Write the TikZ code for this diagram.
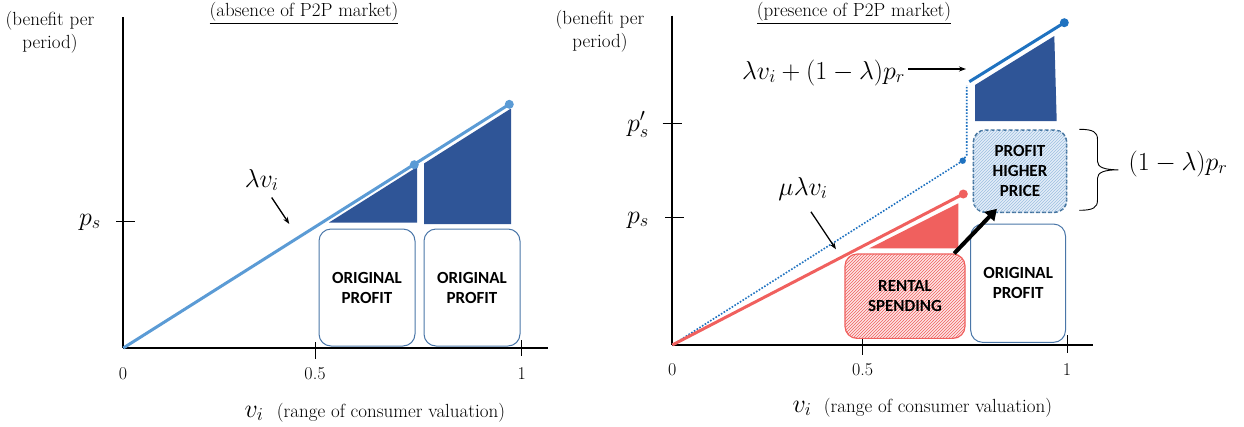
\documentclass[tikz,border=0pt]{standalone}
\usepackage{fix-cm}
\usepackage{fontspec}
\newfontfamily\boxfont{Carlito}
\usepackage{amsmath}
\definecolor{ppblue}{HTML}{5B9BD5}
\definecolor{ppdark}{HTML}{2F5597}
\definecolor{ppmid}{HTML}{1F72C0}
\definecolor{ppedge}{HTML}{4A76A8}
\definecolor{ppdash}{HTML}{41719C}
\definecolor{ppred}{HTML}{F0605E}
\definecolor{pplight}{HTML}{E2ECF7}
\definecolor{pphatch}{HTML}{9DBFE0}
\definecolor{pppink}{HTML}{FCE6E6}
\usetikzlibrary{arrows.meta,positioning,patterns}

\begin{document}
\begin{tikzpicture}[x=1pt,y=-1pt,
 lbl/.style={font=\fontsize{19}{23}\selectfont,align=center,inner sep=0pt,anchor=base},
 num/.style={font=\fontsize{18}{21}\selectfont,inner sep=0pt,anchor=base},
 mth/.style={font=\fontsize{26}{31}\selectfont,inner sep=0pt,anchor=base},
 pbox/.style={draw=ppedge,line width=1pt,rounded corners=12pt,align=center,%
   font=\boxfont\bfseries\fontsize{17}{20}\selectfont},
 axis/.style={line width=2.6pt},
 yax/.style={line width=2pt},
 tck/.style={line width=1pt},
 arr/.style={-{Stealth[length=7pt,width=5pt]},line width=1.3pt,shorten <=3pt},
 bigarr/.style={-{Triangle[length=11pt,width=13pt]},line width=4pt},
 lline/.style={draw=ppblue,line width=3pt},
 rline/.style={draw=ppred,line width=3pt},
 mline/.style={draw=ppmid,line width=3pt},
 dline/.style={draw=ppmid,line width=1.6pt,dash pattern=on 1.6pt off 1.6pt},
 brc/.style={line width=0.9pt}]
\useasboundingbox (0,0) rectangle (1244,426);
% left: absence of P2P market
\node[lbl] (tl) at (304,16) {\underline{(absence of P2P market)}};
\node[lbl] (bl) at (50,48) {(benefit per\\period)};
\coordinate (ol) at (123.3,348);
\draw[yax] (123.3,17) -- (ol);
\draw[axis] (ol) -- (548,348);
\draw[tck] (116,221) -- (135,221);
\draw[tck] (315,342) -- (315,359);
\draw[tck] (521.7,340) -- (521.7,356);
\node[mth] (psl) at (90,225) {$p_s$};
\node[num] (zl) at (123,379) {0};
\node[num] (hl) at (315,379) {0.5};
\node[num] (il) at (521.7,379) {1};
\node[mth] (vl) at (254,417) {$v_i$};
\node[lbl] (rl) at (391,417) {(range of consumer valuation)};
\fill[ppdark] (329,222.5) -- (417,167) -- (417,222.5) -- cycle;
\fill[ppdark] (424,224) -- (424,163.5) -- (511,108.5) -- (511,224) -- cycle;
\coordinate (ml) at (414.3,164.7);
\coordinate (el) at (509.3,104.3);
\draw[lline] (ol) -- (el);
\fill[ppblue] (ml) circle[radius=4.5pt] (el) circle[radius=4.5pt];
\node[pbox,minimum width=96pt,minimum height=117pt] (opa) at (367,287.5) {ORIGINAL\\PROFIT};
\node[pbox,minimum width=96pt,minimum height=117pt] (opb) at (472,287.5) {ORIGINAL\\PROFIT};
\node[mth] (lvl) at (261.7,187) {$\lambda v_i$};
\coordinate (lva) at (270,195);
\coordinate (lvb) at (289.3,224);
\draw[arr] (lva) -- (lvb);
% right: presence of P2P market
\node[lbl] (tr) at (854,16) {\underline{(presence of P2P market)}};
\node[lbl] (br) at (600,47) {(benefit per\\period)};
\coordinate (or) at (672.3,345);
\draw[yax] (672.3,15.7) -- (or);
\draw[axis] (or) -- (1093,345);
\draw[tck] (662.7,123.3) -- (681.7,123.3);
\draw[tck] (665,217.3) -- (684,217.3);
\draw[tck] (862.7,339) -- (862.7,355);
\draw[tck] (1067,335) -- (1067,353);
\node[mth] (psr) at (638,223) {$p_s$};
\node[mth] (pspr) at (638,131) {$p_s^{\prime}$};
\node[num] (zr) at (672.3,375) {0};
\node[num] (hr) at (862.7,375) {0.5};
\node[num] (ir) at (1067,375) {1};
\node[mth] (vr) at (802,412) {$v_i$};
\node[lbl] (rr) at (938,412) {(range of consumer valuation)};
\fill[ppred] (869.3,248.3) -- (958.3,203.3) -- (958.3,248.3) -- cycle;
\fill[ppdark] (975,85) -- (1054.3,36) -- (1056.7,121) -- (975,121) -- cycle;
\coordinate (er) at (963.3,194);
\coordinate (ed) at (962.7,160.7);
\coordinate (sm) at (969.3,81.7);
\coordinate (em) at (1064.3,22.7);
\draw[dline] (or) -- (ed);
\draw[dline] (ed) -- (966.7,155) -- (966.7,85);
\fill[ppmid] (ed) circle[radius=3.2pt];
\draw[rline] (or) -- (er);
\fill[ppred] (er) circle[radius=4.5pt];
\draw[mline] (sm) -- (em);
\fill[ppmid] (em) circle[radius=4.5pt];
\node[pbox,minimum width=94.8pt,minimum height=118.3pt] (opc) at (1018.1,283.2) {ORIGINAL\\PROFIT};
\node[pbox,draw=ppdash,line width=1.5pt,dash pattern=on 4pt off 2pt,fill=pplight,%
  postaction={pattern=north east lines,pattern color=pphatch},%
  minimum width=93.4pt,minimum height=82.3pt] (hp) at (1020,171.2) {PROFIT\\HIGHER\\PRICE};
\node[pbox,draw=ppred,line width=1.2pt,fill=pppink,%
  postaction={pattern=north east lines,pattern color=ppred},%
  minimum width=120pt,minimum height=84.3pt] (rs) at (905,296.2) {RENTAL\\SPENDING};
\draw[bigarr,shorten >=-6pt] (rs.41) -- (hp.237);
\draw[brc] ([xshift=12pt]hp.north east) .. controls +(14,0) and +(0,-7) .. ++(18,10)
  -- ++(0,22) .. controls +(0,6) and +(-14,0) .. ++(21,8.5)
  .. controls +(-14,0) and +(0,-6) .. ++(-21,8.5) -- ++(0,22)
  .. controls +(0,7) and +(14,0) .. ++(-18,10);
\node[mth] (lr) at (1178,170) {$(1-\lambda)p_r$};
\node[mth] (lam) at (823.5,79) {$\lambda v_i+(1-\lambda)p_r$};
\coordinate (lmb) at (966,69);
\draw[arr] (lam.east |- lmb) -- (lmb);
\node[mth] (mlv) at (803,195) {$\mu\lambda v_i$};
\coordinate (mla) at (809.3,209.3);
\coordinate (mlb) at (836,249.3);
\draw[arr] (mla) -- (mlb);
\end{tikzpicture}
\end{document}
